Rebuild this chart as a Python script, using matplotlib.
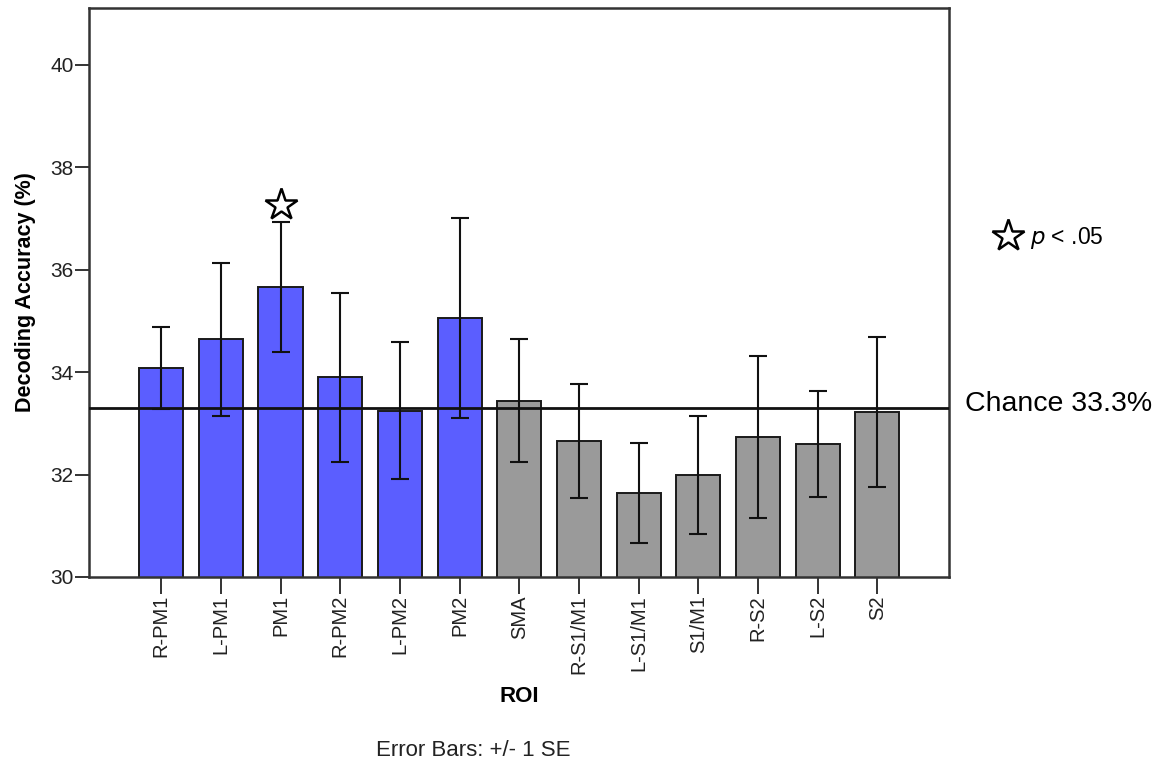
import matplotlib
matplotlib.use("Agg")
import matplotlib.pyplot as plt
import numpy as np

plt.rcParams["font.family"] = ["Liberation Sans", "DejaVu Sans"]

# Decoding accuracy per region of interest, with +/- 1 SE
rois = ["R-PM1", "L-PM1", "PM1", "R-PM2", "L-PM2", "PM2", "SMA",
        "R-S1/M1", "L-S1/M1", "S1/M1", "R-S2", "L-S2", "S2"]
accuracy = [34.08, 34.64, 35.67, 33.90, 33.25, 35.05, 33.44,
            32.66, 31.64, 31.99, 32.73, 32.60, 33.22]
se = [0.80, 1.49, 1.27, 1.65, 1.34, 1.95, 1.20,
      1.11, 0.97, 1.16, 1.58, 1.04, 1.46]
premotor = [True, True, True, True, True, True, False,
            False, False, False, False, False, False]
significant = ["PM1"]
chance = 33.3
y_ticks = [30, 32, 34, 36, 38, 40]

blue = "#5b5eff"
gray = "#9a9a9a"

fig = plt.figure(figsize=(11.73, 7.62), dpi=100)
ax = fig.add_axes([89 / 1173, 1 - 577 / 762, (949 - 89) / 1173, (577 - 8) / 762])

x = np.arange(len(rois))
colors = [blue if p else gray for p in premotor]
ax.bar(x, accuracy, width=0.74, color=colors, edgecolor="#1a1a1a",
       linewidth=1.4, zorder=2)
ax.errorbar(x, accuracy, yerr=se, fmt="none", ecolor="#111111",
            elinewidth=1.5, capsize=6.5, capthick=1.5, zorder=3)
ax.axhline(chance, color="#111111", linewidth=2.0, zorder=4)

# Significance markers above error bars
for name in significant:
    i = rois.index(name)
    ax.plot(x[i], accuracy[i] + se[i] + 0.33, marker="*", markersize=24,
            markerfacecolor="white", markeredgecolor="black",
            markeredgewidth=1.8, zorder=5, clip_on=False)

ax.set_xlim(-1.21, 13.2)
ax.set_ylim(30, 41.11)
ax.set_yticks(y_ticks)
ax.set_yticklabels([str(t) for t in y_ticks], fontsize=15, color="#222222")
ax.set_xticks(x)
ax.set_xticklabels(rois, rotation=90, fontsize=14.5, color="#222222")
ax.tick_params(axis="y", direction="out", length=10, width=1.4,
               color="#333333", pad=1)
ax.tick_params(axis="x", direction="out", length=12, width=1.4,
               color="#333333", pad=1)
for s in ax.spines.values():
    s.set_linewidth(1.8)
    s.set_color("#333333")

ax.set_ylabel("Decoding Accuracy (%)", fontsize=15.5, fontweight="bold")
ax.yaxis.set_label_coords(-(89 - 36) / 860, 0.5)
ax.set_xlabel("ROI", fontsize=16, fontweight="bold")
ax.xaxis.set_label_coords(0.5, -(697 - 577) / 569)
ax.xaxis.label.set_verticalalignment("center")

fig.text(473 / 1173, 1 - 750 / 762, "Error Bars: +/- 1 SE", fontsize=16,
         ha="center", va="center", color="#222222")
fig.text(965 / 1173, 1 - 404 / 762, "Chance 33.3%", fontsize=20.5,
         ha="left", va="center")

# Significance key
fig.add_artist(plt.Line2D([1008 / 1173], [1 - 236 / 762], marker="*",
                          markersize=24, markerfacecolor="white",
                          markeredgecolor="black", markeredgewidth=1.8,
                          transform=fig.transFigure))
fig.text(1030 / 1173, 1 - 238 / 762, r"$p$ < .05", fontsize=16.5,
         ha="left", va="center")

fig.savefig("out.png", dpi=100)
